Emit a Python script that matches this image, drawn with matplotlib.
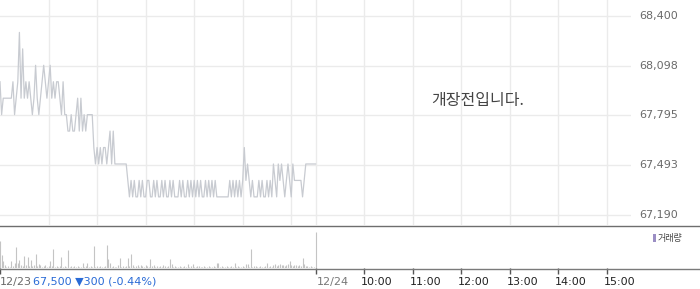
import matplotlib
matplotlib.use('Agg')
import matplotlib.pyplot as plt
from matplotlib.lines import Line2D
from matplotlib.patches import Rectangle
from matplotlib.transforms import blended_transform_factory, offset_copy
import numpy as np

# ---------------- data ----------------
# 12/23 session, sampled every 2 minutes from 09:00 to 15:30
price = [
    68000, 67800, 67900, 67900, 67900, 67900, 67900, 67900, 68000, 67800,
    67900, 68000, 68300, 67900, 68200, 67900, 68000, 67900, 68000, 67900,
    67800, 67900, 68100, 67900, 67800, 67900, 68000, 68100, 68000, 67900,
    68000, 68100, 67900, 68000, 67900, 68000, 68000, 67900, 67800, 68000,
    67800, 67800, 67700, 67700, 67800, 67700, 67700, 67800, 67900, 67700,
    67900, 67700, 67800, 67700, 67800, 67800, 67800, 67800, 67600, 67500,
    67600, 67500, 67600, 67500, 67600, 67600, 67500, 67600, 67700, 67500,
    67700, 67500, 67500, 67500, 67500, 67500, 67500, 67500, 67500, 67400,
    67300, 67400, 67300, 67400, 67300, 67300, 67400, 67300, 67400, 67300,
    67300, 67400, 67400, 67300, 67300, 67400, 67300, 67400, 67300, 67300,
    67400, 67300, 67400, 67300, 67300, 67400, 67300, 67400, 67300, 67300,
    67300, 67400, 67300, 67400, 67300, 67300, 67400, 67300, 67400, 67300,
    67400, 67300, 67400, 67300, 67400, 67300, 67300, 67400, 67300, 67400,
    67300, 67400, 67300, 67400, 67300, 67300, 67300, 67300, 67300, 67300,
    67300, 67300, 67400, 67300, 67400, 67300, 67400, 67300, 67400, 67300,
    67400, 67600, 67400, 67500, 67400, 67300, 67400, 67300, 67300, 67300,
    67400, 67300, 67400, 67300, 67300, 67400, 67300, 67400, 67300, 67500,
    67400, 67300, 67500, 67400, 67500, 67400, 67300, 67400, 67500, 67400,
    67300, 67500, 67400, 67400, 67400, 67400, 67400, 67300, 67400, 67500,
    67500, 67500, 67500, 67500, 67500, 67500,
]
volume = [
    27, 13, 7, 3, 1, 2, 1, 7, 2, 5,
    21, 5, 8, 3, 2, 12, 3, 11, 2, 8,
    2, 3, 14, 2, 4, 3, 1, 2, 3, 1,
    2, 7, 2, 19, 1, 2, 1, 2, 11, 1,
    2, 1, 18, 1, 2, 1, 2, 1, 2, 1,
    1, 5, 1, 2, 5, 1, 2, 1, 22, 1,
    2, 1, 2, 1, 1, 2, 23, 9, 5, 1,
    2, 1, 1, 3, 10, 1, 2, 1, 2, 10,
    2, 14, 3, 1, 2, 3, 1, 3, 2, 1,
    3, 2, 1, 9, 2, 3, 1, 2, 1, 2,
    1, 3, 2, 1, 2, 9, 4, 1, 2, 1,
    1, 2, 1, 1, 2, 1, 4, 1, 2, 4,
    1, 1, 2, 2, 1, 1, 2, 1, 1, 2,
    1, 1, 2, 1, 5, 5, 1, 2, 1, 1,
    2, 1, 1, 2, 1, 5, 1, 2, 1, 1,
    2, 1, 4, 4, 1, 19, 1, 2, 2, 1,
    1, 2, 1, 1, 2, 5, 1, 2, 1, 3,
    4, 2, 3, 4, 3, 3, 2, 3, 4, 7,
    3, 2, 3, 3, 2, 3, 2, 10, 4, 2,
    2, 1, 2, 1, 1, 36,
]
sample_step = 2  # minutes between samples
minutes = np.arange(len(price)) * sample_step

price_ticks = [67190, 67493, 67795, 68098, 68400]
price_tick_labels = ['67,190', '67,493', '67,795', '68,098', '68,400']
hour_grid = [60, 120, 180, 240, 300, 360, 390, 450, 510, 570, 630, 690, 750]
time_ticks = [0, 390, 450, 510, 570, 630, 690, 750]
time_labels = ['10:00', '11:00', '12:00', '13:00', '14:00', '15:00']
time_label_pos = [450, 510, 570, 630, 690, 750]
day2_label = '12/24'
day2_pos = 390
prev_date = '12/23'
last_info = '67,500 \u25bc300 (-0.44%)'
notice = '개장전입니다.'
legend_label = '거래량'

# ---------------- figure ----------------
W, H = 700, 289
fig = plt.figure(figsize=(W / 100, H / 100), dpi=100)
fig.patch.set_facecolor('white')

def fy(px):
    return 1 - px / H

ax_right = 631
ax = fig.add_axes([0, fy(225), ax_right / W, 225 / H])
ax.set_xlim(0, 780)
ax.set_ylim(67129, 68497)
ax.set_yticks(price_ticks)
ax.set_xticks(hour_grid)
ax.grid(True, color='#ebebeb', lw=1)
ax.tick_params(left=False, bottom=False, labelleft=False, labelbottom=False)
for s in ax.spines.values():
    s.set_visible(False)
ax.set_axisbelow(True)

ax.plot(minutes, price, color='#c8cbd1', lw=0.9)

tr = blended_transform_factory(ax.transAxes, ax.transData)
for v, lab in zip(price_ticks, price_tick_labels):
    ax.text(639 / ax_right, v, lab, transform=tr, ha='left', va='center',
            fontsize=8, color='#6a6a6a', family='DejaVu Sans')

ax.text(478 / ax_right, (225 - 100.5) / 225, notice, transform=ax.transAxes,
        ha='center', va='center', fontsize=11.5, color='#444444',
        family=['Noto Sans CJK KR', 'DejaVu Sans'])

# volume panel
vax = fig.add_axes([0, fy(268), ax_right / W, 42 / H])
vax.set_xlim(0, 780)
vax.set_ylim(0, 42)
vax.vlines(minutes, 0, volume, color='#c4c4c4', lw=0.8)
for s in vax.spines.values():
    s.set_visible(False)
vax.set_yticks([])
vax.set_xticks(time_ticks)
vax.tick_params(axis='x', direction='out', length=4, width=1, color='#555555',
                labelbottom=False)

vtr = blended_transform_factory(vax.transData, vax.transAxes)
for pos, lab in zip(time_label_pos, time_labels):
    vax.text(pos, -14 / 42, lab, transform=offset_copy(vtr, fig, x=-3, units='dots'),
             ha='left', va='center', fontsize=8, color='#222222', family='DejaVu Sans')
vax.text(day2_pos, -14 / 42, day2_label, transform=offset_copy(vtr, fig, x=1, units='dots'),
         ha='left', va='center', fontsize=8, color='#777777', family='DejaVu Sans')

fig.text(0, fy(282), prev_date, ha='left', va='center', fontsize=8,
         color='#6a6a6a', family='DejaVu Sans')
fig.text(33 / W, fy(282), last_info, ha='left', va='center', fontsize=8,
         color='#2a6bd6', family='DejaVu Sans')

# separators
fig.add_artist(Line2D([0, 1], [fy(225.5), fy(225.5)], transform=fig.transFigure,
                      color='#6e6e6e', lw=1))
fig.add_artist(Line2D([0, 1], [fy(268.5), fy(268.5)], transform=fig.transFigure,
                      color='#7a7a7a', lw=1))

# legend
fig.add_artist(Rectangle((653 / W, fy(242)), 2.5 / W, 8 / H, transform=fig.transFigure,
                         facecolor='#9b8ec4', edgecolor='none'))
fig.text(658 / W, fy(238.5), legend_label, ha='left', va='center', fontsize=6.5,
         color='#444444', family=['Noto Sans CJK KR', 'DejaVu Sans'])

fig.savefig('out.png', dpi=100, facecolor='white')
